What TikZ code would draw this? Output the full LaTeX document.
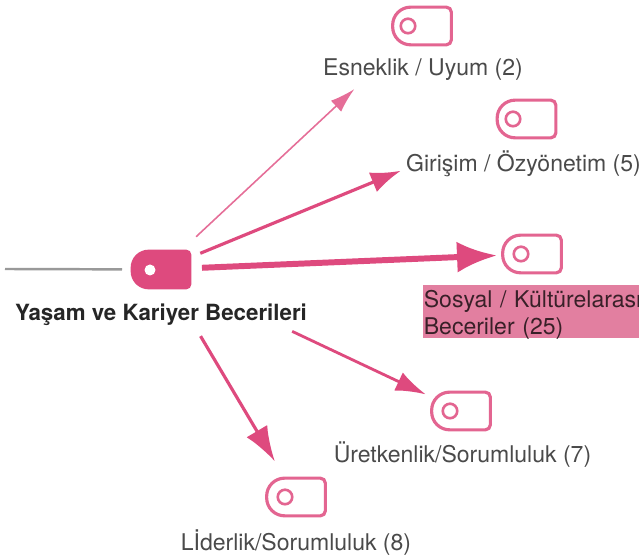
\documentclass[tikz,border=0pt]{standalone}
\usepackage{xcolor}
\usepackage{fontspec}
\setmainfont{TeX Gyre Heros}
\usepackage{tikz}
\usetikzlibrary{arrows.meta}
\definecolor{tagpink}{HTML}{DE4A7E}
\definecolor{barpink}{HTML}{E27FA0}
\definecolor{labelgrey}{HTML}{4A4A4A}
\tikzset{
  tagbox/.style={rectangle, minimum width=1.16cm, minimum height=.74cm, inner sep=0pt},
  tagdot/.style={circle, draw=tagpink!85, line width=1.5pt, minimum size=.29cm, inner sep=0pt},
  tagtext/.style={text=labelgrey, font=\fontsize{13.1}{15}\selectfont, inner sep=0pt}
}
\begin{document}
\begin{tikzpicture}
\useasboundingbox (0, 0) rectangle (12.78, 11.12);
\fill [barpink] (8.46, 4.36) rectangle (12.78, 5.42);
\coordinate (S) at (0.1, 5.74);
\node [rectangle, minimum width=1.2cm, minimum height=.78cm, inner sep=0pt] (K) at (3.22, 5.73) {};
\fill [tagpink, rounded corners=.36cm] (K.south) -- (K.south west) -- (K.north west) [rounded corners=.1cm] -- (K.north east) -- (K.south east) -- cycle;
\node [circle, fill=white, minimum size=.22cm, inner sep=0pt] (Kd) at (3.0, 5.72) {};
\node [tagbox] (E) at (8.44, 10.6) {};
\node [tagdot] (Ed) at (8.16, 10.6) {};
\node [tagbox] (G) at (10.53, 8.74) {};
\node [tagdot] (Gd) at (10.26, 8.74) {};
\node [tagbox] (O) at (10.64, 6.04) {};
\node [tagdot] (Od) at (10.42, 6.04) {};
\node [tagbox] (U) at (9.22, 2.9) {};
\node [tagdot] (Ud) at (9.0, 2.9) {};
\node [tagbox] (L) at (5.92, 1.18) {};
\node [tagdot] (Ld) at (5.7, 1.18) {};
\foreach \n in {E,G,O,U,L}
  \draw [draw=tagpink!85, line width=1.8pt, rounded corners=.36cm] (\n.south) -- (\n.south west) -- (\n.north west) [rounded corners=.1cm] -- (\n.north east) -- (\n.south east) -- cycle;
\node [tagtext] (Et) at (8.46, 9.73) {Esneklik / Uyum (2)};
\node [tagtext] (Gt) at (10.47, 7.84) {Girişim / Özyönetim (5)};
\node [tagtext, anchor=north west, align=left, text=black!75!barpink, font=\fontsize{13.1}{15.5}\selectfont, text width=4.8cm] (Ot) at (8.47, 5.32) {Sosyal / Kültürelarası\\Beceriler (25)};
\node [tagtext] (Ut) at (9.25, 2.03) {Üretkenlik/Sorumluluk (7)};
\node [tagtext] (Lt) at (5.92, 0.27) {Lİderlik/Sorumluluk (8)};
\node [inner sep=0pt, font=\bfseries\fontsize{12.7}{14}\selectfont, text=black!85] (Kt) at (3.22, 4.83) {Yaşam ve Kariyer Becerileri};
\draw [draw=gray!80, line width=1.4pt, shorten >=.78cm] (S) to (K.center);
\draw [-{Latex[length=.5cm,width=.3cm]}, draw=tagpink!80, line width=.9pt, shorten <=.96cm, shorten >=1.85cm] (K.center) to (E.center);
\draw [-{Latex[length=.6cm,width=.42cm]}, draw=tagpink, line width=1.8pt, shorten <=.85cm, shorten >=2.72cm] (K.center) to (G.center);
\draw [-{Latex[length=.8cm,width=.62cm]}, draw=tagpink, line width=3.4pt, shorten <=.82cm, shorten >=.7cm] (K.center) to (O.center);
\draw [-{Latex[length=.6cm,width=.4cm]}, draw=tagpink, line width=1.6pt, shorten <=2.9cm, shorten >=.78cm] (K.center) to (U.center);
\draw [-{Latex[length=.7cm,width=.48cm]}, draw=tagpink, line width=1.8pt, shorten <=1.55cm, shorten >=.83cm] (K.center) to (L.center);
\end{tikzpicture}
\end{document}
